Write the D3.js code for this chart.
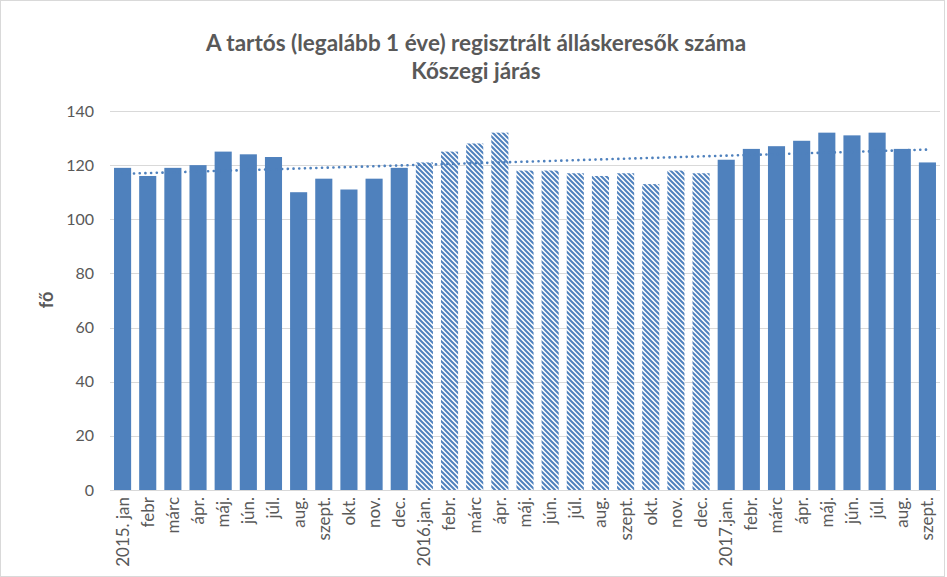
<!DOCTYPE html>
<html><head><meta charset="utf-8">
<script src="https://cdn.jsdelivr.net/npm/d3@7/dist/d3.min.js"></script>
<style>body{margin:0;background:#fff}svg{display:block}text{font-family:Lato,"Open Sans",sans-serif;fill:#595959}</style>
</head><body>
<svg id="c" width="947" height="577"></svg>
<script>
const categories = ["2015. jan","febr","márc","ápr.","máj.","jún.","júl.","aug.","szept.","okt.","nov.","dec.",
  "2016.jan.","febr.","márc","ápr.","máj.","jún.","júl.","aug.","szept.","okt.","nov.","dec.",
  "2017.jan.","febr.","márc","ápr.","máj.","jún.","júl.","aug.","szept."];
const values = [119,116,119,120,125,124,123,110,115,111,115,119,
  121,125,128,132,118,118,117,116,117,113,118,117,
  122,126,127,129,132,131,132,126,121];
const hatched = [0,0,0,0,0,0,0,0,0,0,0,0, 1,1,1,1,1,1,1,1,1,1,1,1, 0,0,0,0,0,0,0,0,0];
const yTicks = [0,20,40,60,80,100,120,140];
const titleLines = ["A tartós (legalább 1 éve) regisztrált álláskeresők száma","Kőszegi járás"];
const yLabel = "fő";

const svg = d3.select("#c");
const W = 947, H = 577;
const m = {l:110, r:940, t:111, b:490};
const blue = "#4F81BD";

svg.append("rect").attr("x",0.5).attr("y",0.5).attr("width",W-3).attr("height",H-1)
  .attr("fill","#fff").attr("stroke","#d9d9d9");

const defs = svg.append("defs");
const pat = defs.append("pattern").attr("id","hatch").attr("patternUnits","userSpaceOnUse")
  .attr("width",5).attr("height",5);
pat.append("rect").attr("width",5).attr("height",5).attr("fill","#fff");
pat.append("path").attr("d","M-1,-1L6,6M-1,4L1,6M4,-1L6,1").attr("stroke",blue).attr("stroke-width",2);

const x = d3.scaleBand().domain(d3.range(categories.length)).range([m.l,m.r]).paddingInner(0.32).paddingOuter(0.16);
const y = d3.scaleLinear().domain([0,140]).range([m.b,m.t]);

// gridlines
svg.append("g").selectAll("line").data(yTicks).join("line")
  .attr("x1",m.l).attr("x2",m.r).attr("y1",d=>Math.round(y(d))+0.5).attr("y2",d=>Math.round(y(d))+0.5)
  .attr("stroke","#d9d9d9").attr("stroke-width",1);

// y axis labels
const yAxis = d3.axisLeft(y).tickValues(yTicks).tickSize(0).tickPadding(0);
const ya = svg.append("g").attr("transform",`translate(${m.l-16},0)`).call(yAxis);
ya.select(".domain").remove();
ya.selectAll("text").style("font-size","16px").attr("fill","#595959").attr("font-family","Lato");

// bars
svg.append("g").selectAll("rect").data(values).join("rect")
  .attr("x",(d,i)=>x(i)).attr("width",x.bandwidth())
  .attr("y",d=>y(d)).attr("height",d=>y(0)-y(d))
  .attr("fill",(d,i)=>hatched[i]?"url(#hatch)":blue);

// trendline (least squares of the data)
const n = values.length, idx = d3.range(n);
const mx = d3.mean(idx), my = d3.mean(values);
const slope = d3.sum(idx,i=>(i-mx)*(values[i]-my))/d3.sum(idx,i=>(i-mx)*(i-mx));
const icpt = my - slope*mx;
const cx = i => x(i)+x.bandwidth()/2;
svg.append("line").attr("x1",cx(0)).attr("x2",cx(n-1))
  .attr("y1",y(icpt)).attr("y2",y(icpt+slope*(n-1)))
  .attr("stroke",blue).attr("stroke-width",2.6).attr("stroke-linecap","round")
  .attr("stroke-dasharray","0.1,5.6");

// x axis line
svg.append("line").attr("x1",m.l).attr("x2",m.r).attr("y1",m.b+0.5).attr("y2",m.b+0.5).attr("stroke","#d9d9d9");

// x labels
const xAxis = d3.axisBottom(x).tickFormat(i=>categories[i]).tickSize(0).tickPadding(0);
const xa = svg.append("g").attr("transform",`translate(0,${m.b})`).call(xAxis);
xa.select(".domain").remove();
xa.selectAll("text").style("font-size","17px").attr("font-family","Lato").attr("fill","#595959")
  .attr("text-anchor","end").attr("transform","rotate(-90)")
  .attr("x",-7).attr("y",0).attr("dy","0.35em");

// title
svg.append("g").selectAll("text").data(titleLines).join("text")
  .attr("x",476).attr("y",(d,i)=>51+i*28).attr("text-anchor","middle")
  .style("font-size","22.5px").style("font-weight","bold").text(d=>d);

// y label
svg.append("text").attr("transform","translate(53,300) rotate(-90)").attr("text-anchor","middle")
  .style("font-size","18px").style("font-weight","bold").text(yLabel);
</script>
</body></html>
